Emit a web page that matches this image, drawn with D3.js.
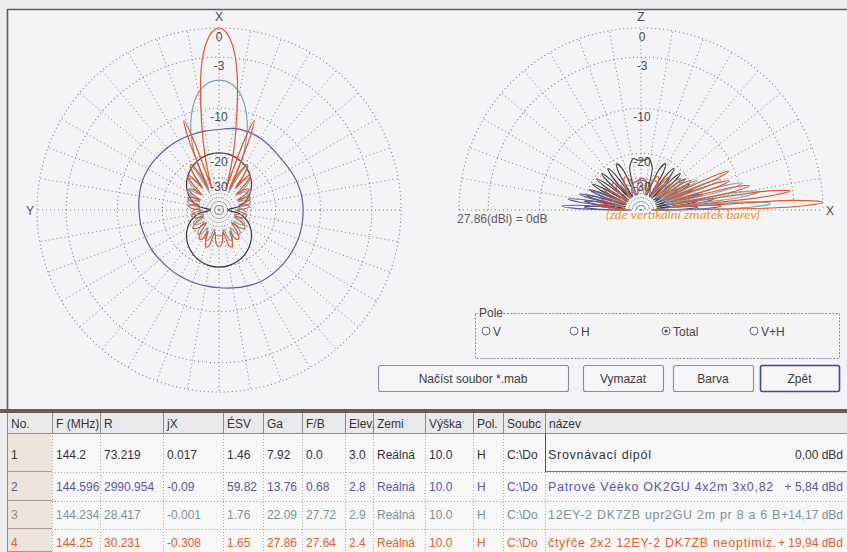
<!DOCTYPE html>
<html><head><meta charset="utf-8">
<script src="https://cdn.jsdelivr.net/npm/d3@7"></script>
<style>
body{margin:0;background:#eeeef1;}
svg{display:block;font-family:"Liberation Sans",Arial,sans-serif;}
</style></head><body>
<svg id="c" width="847" height="552"></svg>
<script>
// ---------------- DATA ----------------
const seriesNames = ["Srovnávací dipól","Patrové Véèko OK2GU 4x2m 3x0,82","12EY-2 DK7ZB upr2GU 2m pr 8 a 6 B","čtyřče 2x2 12EY-2 DK7ZB neoptimiz."];
const seriesColors = ["#3a3a3e","#5d59a8","#78a6ac","#e2552c"];
const ringDb = [0,-3,-10,-20,-30];
const ringLabels = ["0","-3","-10","-20","-30"];
const gainDbi = [7.92,13.76,22.09,27.86];

// Azimuth (horizontal plane) patterns, [angle from X clockwise (deg), dB rel. 0 dB]
// symmetric series given for 0..180 and mirrored
const dipoleAz = [[0,-19.9],[10,-20.1],[20,-20.7],[30,-21.7],[40,-23.1],[50,-25.0],[60,-27.6],[70,-31.2],[80,-37],[90,-52],[100,-37],[110,-31.2],[120,-27.6],[130,-25.0],[140,-23.1],[150,-21.7],[160,-20.7],[170,-20.1],[180,-19.9]];
const veeAz = [[0,-14.0],[10,-13.5],[20,-13.4],[30,-13.5],[40,-13.8],[50,-14.0],[60,-13.8],[70,-13.5],[80,-13.3],[90,-13.25],[100,-13.2],[110,-13.2],[120,-13.25],[130,-13.3],[140,-13.4],[150,-13.5],[160,-13.9],[170,-14.3],[180,-14.6],[190,-14.75],[200,-14.8],[210,-14.8],[220,-14.8],[230,-14.7],[240,-14.5],[250,-14.4],[260,-14.2],[270,-14.1],[280,-13.9],[290,-13.7],[300,-13.7],[310,-13.8],[320,-13.9],[330,-14.0],[340,-14.1],[350,-14.1]];
const yagiAz = [[0,-5.8],[5,-6.1],[10,-7.3],[14,-9.1],[18,-11.8],[21,-14.8],[23.5,-18.5],[25.5,-23.5],[27,-30],[28,-38],[29.5,-29],[31,-23],[33,-21.5],[35,-24],[37,-33],[39,-28],[42,-25],[45,-24.5],[48,-27],[51,-34],[55,-29],[59,-27.5],[63,-30],[66,-37],[70,-31],[75,-29.5],[80,-32],[84,-39],[90,-34],[96,-32.5],[102,-36],[106,-42],[112,-35],[118,-31.5],[124,-33],[128,-39],[133,-33],[138,-30],[143,-31],[147,-37],[152,-32],[157,-29],[162,-31],[166,-38],[171,-34],[176,-33.5],[180,-33.5]];
const quadAz = [[0,0],[2,-0.3],[4,-1.2],[6,-2.8],[8,-5.5],[10,-9.5],[12,-14],[14,-19],[15.5,-24],[17,-30],[18,-36],[19,-26],[20,-15],[21.5,-11],[23,-14],[24,-19],[25,-26],[26,-35],[27.5,-27],[29.5,-23],[31.5,-21],[33.5,-21.5],[35.5,-25],[37,-32],[38.5,-27],[40.5,-24],[42.5,-23.5],[44.5,-25.5],[46.5,-31],[48.5,-36],[51,-30],[55,-27.5],[59,-30],[62,-37],[65,-31],[69,-29],[73,-31],[76,-38],[79,-32],[83,-30.5],[87,-33],[91,-40],[97,-34],[103,-32],[109,-35],[113,-41],[119,-33],[125,-30],[131,-33],[135,-40],[140,-32],[145,-28.5],[150,-29],[153,-35],[156,-30],[160,-26.5],[164,-27],[167,-33],[170,-36],[174,-30],[177,-28],[180,-27.6]];

// Elevation (vertical plane) patterns, [elevation from +X (deg), dB]
const dipoleEl = [[0,-45],[1.5,-23],[3,-20],[4.5,-23],[6,-42],[7.5,-23],[9,-20],[10.5,-23],[12,-42],[13.5,-23.2],[15.1,-20.2],[16.6,-23.2],[18.2,-42],[19.8,-23.4],[21.4,-20.4],[23,-23.4],[24.6,-42],[26.2,-23.6],[27.9,-20.6],[29.6,-23.6],[31.4,-42],[33.2,-23.8],[35,-20.8],[36.8,-23.8],[38.7,-42],[40.8,-24],[42.8,-21],[44.8,-24],[46.8,-42],[49.1,-24.2],[51.4,-21.2],[53.9,-24.2],[56.4,-42],[59.4,-24.4],[62.3,-21.4],[66,-24.4],[69.6,-42],[75,-24.5],[81.7,-21.5],[86,-22.2],[90,-22.2]];
const veeEl = [[0,-48],[1.4,-17],[2.8,-14],[4.2,-17],[5.8,-34],[7.2,-18.5],[8.6,-15.5],[10,-18.5],[11.7,-35],[13.1,-21],[14.5,-18],[16,-21],[17.8,-36],[19.3,-24.5],[20.8,-21.5],[22.4,-24.5],[24.2,-38],[27,-27],[29.5,-25],[32,-27],[35,-40],[40,-30],[45,-28.5],[50,-31],[56,-42],[70,-33],[90,-31],[110,-33],[124,-42],[130,-31],[135,-28.5],[140,-30],[145,-40],[148,-27],[150.5,-25],[153,-27],[155.8,-38],[157.6,-24.5],[159.2,-21.5],[160.7,-24.5],[162.2,-36],[164,-21],[165.5,-18],[166.9,-21],[168.3,-35],[170,-18.5],[171.4,-15.5],[172.8,-18.5],[174.2,-34],[175.8,-17.5],[177.2,-14.3],[178.6,-17.5],[180,-48]];
const yagiEl = [[0,-48],[1.45,-8.8],[2.9,-5.8],[4.35,-8.8],[5.9,-32],[7.3,-10],[8.8,-7.2],[10.3,-10],[11.9,-33],[13.3,-12.5],[14.8,-9.5],[16.3,-12.5],[18,-34],[19.5,-16],[21,-13],[22.6,-16],[24.4,-35],[26,-21],[27.6,-18],[29.3,-21],[31.2,-36],[33.2,-25],[35,-22.5],[37,-25],[39,-38],[42,-28],[45,-26],[48,-28],[52,-40],[58,-31],[64,-29.5],[70,-32],[76,-42],[90,-34],[104,-42],[115,-33],[124,-31],[132,-40],[140,-33],[146,-31.5],[152,-40],[158,-33],[163,-31],[167,-39],[171,-34],[174.5,-33.5],[177,-38],[180,-50]];
const quadEl = [[0,-48],[1.2,-3],[2.4,0],[3.6,-3],[4.9,-30],[6.1,-6.5],[7.3,-3.3],[8.6,-6.5],[10,-30],[11.3,-11],[12.6,-8.5],[13.9,-11],[15.4,-32],[16.8,-14],[18.2,-11.5],[19.6,-14],[21.2,-33],[22.6,-13.5],[23.8,-11],[25,-13.5],[27,-34],[28.7,-22],[30.5,-19.5],[32.3,-22],[34.4,-36],[36.5,-24.5],[38.5,-22],[40.5,-24.5],[43,-38],[46,-27],[49,-24.5],[52,-27],[55,-40],[59,-29],[63,-27],[67,-29],[72,-42],[80,-31],[88,-30],[95,-31],[103,-42],[110,-30],[116,-27.5],[122,-30],[127,-42],[132,-29],[137,-26.5],[141,-29],[145,-42],[148.5,-28],[151.5,-25.5],[154.5,-28],[158,-42],[161,-27],[163.5,-24.5],[166,-27],[169,-40],[171.5,-27],[173.5,-24.5],[175.5,-27],[177.5,-40],[178.8,-29],[180,-50]];

// Table
const tableHeaders = ["No.","F (MHz)","R","jX","ÉSV","Ga","F/B","Elev.","Zemi","Výška","Pol.","Soubc","název"];
const rowNo = ["1","2","3","4"];
const freqMHz = ["144.2","144.596","144.234","144.25"];
const resR = ["73.219","2990.954","28.417","30.231"];
const reactX = ["0.017","-0.09","-0.001","-0.308"];
const swr = ["1.46","59.82","1.76","1.65"];
const fbRatio = ["0.0","0.68","27.72","27.64"];
const elevDeg = ["3.0","2.8","2.9","2.4"];
const groundType = ["Reálná","Reálná","Reálná","Reálná"];
const heightM = ["10.0","10.0","10.0","10.0"];
const polar = ["H","H","H","H"];
const fileName = ["C:\\Do","C:\\Do","C:\\Do","C:\\Do"];
const dBdLabels = ["0,00 dBd","+ 5,84 dBd","+14,17 dBd","+ 19,94 dBd"];
const textColors = ["#333338","#5a58a2","#7d9298","#e0602c"];

const fieldOptions = ["V","H","Total","V+H"];
const buttonLabels = ["Načíst soubor *.mab","Vymazat","Barva","Zpět"];

// ---------------- LAYOUT ----------------
const svg = d3.select("#c");
const R = 182;
const rho = d3.scaleLinear().domain([0,1]).range([0,R]);
const rOf = db => rho(Math.pow(0.89, -db/2));   // ARRL log scale
const mirror = half => half.concat(half.slice(1,-1).reverse().map(([a,d]) => [360-a,d]));
const toRad = Math.PI/180;

svg.append("rect").attr("width",847).attr("height",552).attr("fill","#eeeef1");
svg.append("rect").attr("x",7).attr("y",9).attr("width",845).attr("height",401).attr("fill","#f4f4f7");
svg.append("path").attr("d","M7.5,410 V9.5 H847").attr("fill","none").attr("stroke","#5e5e62").attr("stroke-width",1.6);

const gridStroke = "#7b7b84";
function drawLabels(g, list){
  list.forEach(t => g.append("text").attr("x",t.x).attr("y",t.y).attr("text-anchor","middle")
    .attr("font-size",12).attr("fill","#4a4a50").text(t.s));
}

// Left: azimuth plot
const cxL = 219, cyL = 210;
const gL = svg.append("g").attr("transform",`translate(${cxL},${cyL})`);
d3.range(0,360,10).forEach(a => {
  gL.append("line").attr("x1",0).attr("y1",0).attr("x2",R*Math.sin(a*toRad)).attr("y2",-R*Math.cos(a*toRad))
    .attr("stroke",gridStroke).attr("stroke-dasharray","1 3").attr("stroke-width",1);
});
ringDb.forEach(db => gL.append("circle").attr("r",rOf(db)).attr("fill","none")
  .attr("stroke",gridStroke).attr("stroke-dasharray","1 3").attr("stroke-width",1.1));
const azLine = d3.lineRadial().angle(d => d[0]*toRad).radius(d => rOf(d[1])).curve(d3.curveCatmullRomClosed.alpha(0.5));
const azSeries = [mirror(dipoleAz), veeAz, mirror(yagiAz), mirror(quadAz)];
azSeries.forEach((s,i) => gL.append("path").attr("d",azLine(s)).attr("fill","none")
  .attr("stroke",seriesColors[i]).attr("stroke-width",1.2));
drawLabels(gL, ringDb.map((db,i) => ({x:0, y:-rOf(db)+13, s:ringLabels[i]})));
drawLabels(gL, [{x:0,y:-R-7,s:"X"},{x:-189,y:5,s:"Y"}]);

// Right: elevation plot
const cxR = 641, cyR = 210;
const gR = svg.append("g").attr("transform",`translate(${cxR},${cyR})`);
d3.range(10,180,10).forEach(a => {
  gR.append("line").attr("x1",0).attr("y1",0).attr("x2",R*Math.cos(a*toRad)).attr("y2",-R*Math.sin(a*toRad))
    .attr("stroke",gridStroke).attr("stroke-dasharray","1 3").attr("stroke-width",1);
});
gR.append("line").attr("x1",-R).attr("x2",R).attr("y1",0).attr("y2",0)
  .attr("stroke",gridStroke).attr("stroke-dasharray","1 3");
ringDb.forEach(db => {
  const p = d3.path(); const r = rOf(db);
  p.moveTo(-r,0); p.arc(0,0,r,Math.PI,2*Math.PI);
  gR.append("path").attr("d",p.toString()).attr("fill","none")
    .attr("stroke",gridStroke).attr("stroke-dasharray","1 3").attr("stroke-width",1.1);
});
const elLine = d3.lineRadial().angle(d => (90-d[0])*toRad).radius(d => rOf(d[1])).curve(d3.curveCatmullRom.alpha(0.5));
const dipFull = dipoleEl.concat(dipoleEl.slice(0,-1).reverse().map(([e,d]) => [180-e,d]));
const elSeries = [dipFull, veeEl, yagiEl, quadEl];
elSeries.forEach((s,i) => gR.append("path").attr("d",elLine(s)).attr("fill","none")
  .attr("stroke",seriesColors[i]).attr("stroke-width",1.1));
drawLabels(gR, ringDb.map((db,i) => ({x:1, y:-rOf(db)+13, s:ringLabels[i]})));
drawLabels(gR, [{x:0,y:-R-7,s:"Z"},{x:189,y:5,s:"X"}]);

const maxGain = d3.max(gainDbi);
svg.append("text").attr("x",457).attr("y",223).attr("font-size",12).attr("fill","#5a5a60")
  .text(`${maxGain.toFixed(2)}(dBi) = 0dB`);
svg.append("text").attr("x",606).attr("y",219).attr("font-size",12).attr("font-style","italic")
  .attr("font-family","Lato, sans-serif").attr("fill","#e8962c")
  .attr("textLength",154).attr("lengthAdjust","spacingAndGlyphs").text("(zde vertikální zmatek barev)");

// Pole group box
svg.append("rect").attr("x",475.5).attr("y",313.5).attr("width",364).attr("height",45)
  .attr("fill","none").attr("stroke","#8a8a92").attr("stroke-dasharray","2 1.5");
svg.append("rect").attr("x",478).attr("y",307).attr("width",24).attr("height",12).attr("fill","#f4f4f7");
svg.append("text").attr("x",479).attr("y",317).attr("font-size",12).attr("fill","#444").text("Pole");
const radioX = [486,574,666,754];
fieldOptions.forEach((o,i) => {
  svg.append("circle").attr("cx",radioX[i]).attr("cy",331).attr("r",4).attr("fill","#fafafc")
    .attr("stroke","#66668a").attr("stroke-width",1);
  if (o === "Total") svg.append("circle").attr("cx",radioX[i]).attr("cy",331).attr("r",1.6).attr("fill","#444");
  svg.append("text").attr("x",radioX[i]+7).attr("y",335.5).attr("font-size",12).attr("fill","#444").text(o);
});

// Buttons
const btnX = [378,583,673,760], btnW = [190,80,80,79];
buttonLabels.forEach((b,i) => {
  svg.append("rect").attr("x",btnX[i]+0.5).attr("y",365.5).attr("width",btnW[i]).attr("height",26).attr("rx",2)
    .attr("fill","#f6f6f8").attr("stroke", i===3 ? "#3e4a8c" : "#8a88a4").attr("stroke-width", i===3 ? 1.6 : 1.1);
  svg.append("text").attr("x",btnX[i]+btnW[i]/2).attr("y",383).attr("text-anchor","middle")
    .attr("font-size",12).attr("fill","#3a3a3a").text(b);
});

// Table
svg.append("rect").attr("x",0).attr("y",409).attr("width",847).attr("height",4).attr("fill","#6c5b54");
const colX = [7,52,100,163,223,263,302,345,373,425,473,503,545,847];
const rowY = [413,433,472,501,529,552];
const rowBase = [428,459,491,519,547];
svg.append("rect").attr("x",7).attr("y",413).attr("width",840).attr("height",139).attr("fill","#f7f7f7");
svg.append("rect").attr("x",7).attr("y",413).attr("width",840).attr("height",20).attr("fill","#e9e9eb");
for (let r = 1; r < 5; r++) {
  svg.append("rect").attr("x",7).attr("y",rowY[r]).attr("width",45).attr("height",rowY[r+1]-rowY[r])
    .attr("fill","#ede4dc");
  svg.append("line").attr("x1",7).attr("x2",52).attr("y1",rowY[r+1]-0.5).attr("y2",rowY[r+1]-0.5)
    .attr("stroke","#a89890");
}
colX.slice(1,-1).forEach(x => {
  svg.append("line").attr("x1",x+0.5).attr("x2",x+0.5).attr("y1",413).attr("y2",433).attr("stroke","#8c8c90");
  svg.append("line").attr("x1",x+0.5).attr("x2",x+0.5).attr("y1",433).attr("y2",552)
    .attr("stroke","#a8a8ac").attr("stroke-dasharray","1 2");
});
svg.append("line").attr("x1",7.5).attr("x2",7.5).attr("y1",413).attr("y2",552).attr("stroke","#8c8c90");
svg.append("line").attr("x1",7).attr("x2",847).attr("y1",433.5).attr("y2",433.5).attr("stroke","#8c8c90");
rowY.slice(2,-1).forEach(y => svg.append("line").attr("x1",52).attr("x2",847).attr("y1",y+0.5).attr("y2",y+0.5)
  .attr("stroke","#a8a8ac").attr("stroke-dasharray","1 2"));
svg.append("line").attr("x1",545.5).attr("x2",545.5).attr("y1",433).attr("y2",472).attr("stroke","#555");
svg.append("line").attr("x1",545).attr("x2",847).attr("y1",471.5).attr("y2",471.5).attr("stroke","#777");

tableHeaders.forEach((h,j) => svg.append("text").attr("x",colX[j]+4).attr("y",rowBase[0])
  .attr("font-size",12).attr("fill","#333").text(h));
for (let i = 0; i < 4; i++) {
  const cells = [rowNo[i],freqMHz[i],resR[i],reactX[i],swr[i],gainDbi[i].toFixed(2),fbRatio[i],elevDeg[i],
                 groundType[i],heightM[i],polar[i],fileName[i]];
  cells.forEach((c,j) => svg.append("text").attr("x",colX[j]+4).attr("y",rowBase[i+1])
    .attr("font-size",12).attr("fill",textColors[i]).text(c));
  svg.append("text").attr("x",colX[12]+3).attr("y",rowBase[i+1]).attr("font-size",12.5)
    .attr("letter-spacing",0.7).attr("fill",textColors[i]).text(seriesNames[i]);
  svg.append("text").attr("x",843).attr("y",rowBase[i+1]).attr("text-anchor","end")
    .attr("font-size",12).attr("fill",textColors[i]).text(dBdLabels[i]);
}
</script>
</body></html>
